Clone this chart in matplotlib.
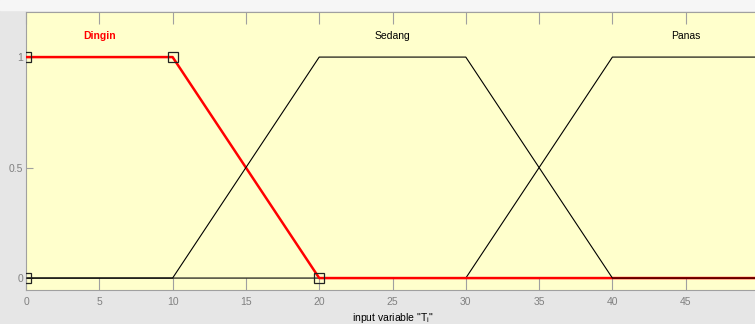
import matplotlib.pyplot as plt
from matplotlib.patches import Rectangle

plt.rcParams['font.family'] = ['Liberation Sans Narrow', 'Liberation Sans', 'DejaVu Sans']

# membership functions of input "T_i"
dingin_x = [0, 0, 10, 20, 50]
dingin_y = [0, 1, 1, 0, 0]
sedang_x = [0, 10, 20, 30, 40, 50]
sedang_y = [0, 0, 1, 1, 0, 0]
panas_x = [0, 30, 40, 50]
panas_y = [0, 0, 1, 1]

mf_names = ['Dingin', 'Sedang', 'Panas']
mf_label_x = [5, 25, 45]
xticks = [0, 5, 10, 15, 20, 25, 30, 35, 40, 45]
yticks = [0, 0.5, 1]
ytick_labels = ['0', '0.5', '1']

fig = plt.figure(figsize=(7.55, 3.24), dpi=100, facecolor='#e6e6e6')
fig.patches.append(Rectangle((0, 1 - 10 / 324), 1, 10 / 324, transform=fig.transFigure,
                             color='#f6f6f6', zorder=0))

ax = fig.add_axes([26 / 755, 34 / 324, 733 / 755, 278 / 324])
ax.set_facecolor('#ffffcc')

ax.plot(panas_x, panas_y, color='black', lw=0.8, zorder=2)
# the vertical edge at x=0 sits on the spine, so start the red line at (0, 1)
ax.plot(dingin_x[1:], dingin_y[1:], color='#ff0000', lw=1.8, zorder=3)
ax.plot(sedang_x, sedang_y, color='black', lw=0.8, zorder=4)
# selected MF vertices
ax.plot(dingin_x[:4], dingin_y[:4], 's', ms=7, mfc='none', mec='#222222', mew=0.9,
        zorder=5)

for name, lx in zip(mf_names, mf_label_x):
    c = '#ff0000' if name == 'Dingin' else 'black'
    ax.text(lx, 1.095, name, color=c, ha='center', va='center', fontsize=7.5,
            fontweight='bold' if name == 'Dingin' else 'normal')

ax.set_xlim(0, 50)
ax.set_ylim(-0.054, 1.204)
ax.set_xticks(xticks)
ax.set_yticks(yticks)
ax.set_yticklabels(ytick_labels)
ax.tick_params(axis='x', direction='in', length=8.5, width=0.8, color='#a0a0a0',
               labelcolor='#808080', labelsize=7.5, top=True, pad=5)
ax.tick_params(axis='y', direction='in', length=5, width=0.8, color='#a0a0a0',
               labelcolor='#808080', labelsize=7.5, pad=2)
for s in ax.spines.values():
    s.set_color('#a0a0a0')
    s.set_linewidth(0.8)

ax.set_xlabel('input variable "T$_\\mathregular{i}$"', fontsize=7.5, labelpad=3)

fig.savefig('out.png', dpi=100, facecolor=fig.get_facecolor())
